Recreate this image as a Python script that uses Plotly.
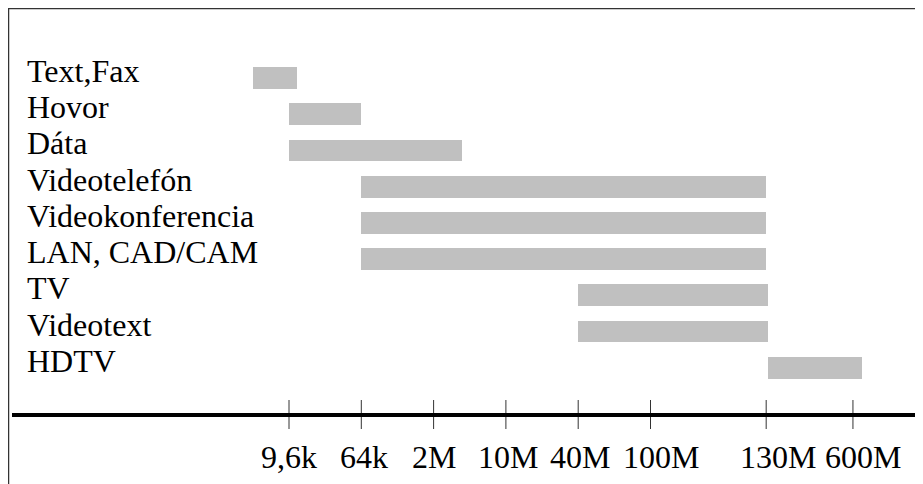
import plotly.graph_objects as go

# ---- data ----
categories = ["Text,Fax", "Hovor", "Dáta", "Videotelefón", "Videokonferencia",
              "LAN, CAD/CAM", "TV", "Videotext", "HDTV"]
# positions on the (ordinal) bit-rate scale: 0 = 9,6k, 1 = 64k, ... (tick units)
range_start = [-0.5, 0.0, 0.0, 1.0, 1.0, 1.0, 4.0, 4.0, 6.62]
range_end = [0.11, 1.0, 2.39, 6.6, 6.6, 6.6, 6.62, 6.62, 7.92]
tick_labels = ["9,6k", "64k", "2M", "10M", "40M", "100M", "130M", "600M"]
tick_pos = [0, 1, 2, 3, 4, 5, 6.6, 7.8]

# ---- styling (pixel values are relative to the figure, which the page offsets by 8px) ----
W, H = 925, 476
FONT = "Liberation Serif"
BAR_COLOR = "#c0c0c0"
px_per_unit = 72.3
x_zero_px = 281
row_pitch = 36.22
row0_px = 70
axis_px = 407
axis_left_px = 4
label_nudge_px = {"64k": 3, "10M": 2, "40M": 2, "100M": 10, "130M": 12, "600M": 10}

rows = list(range(len(categories)))

fig = go.Figure()
fig.add_trace(go.Bar(
    y=rows,
    x=[e - s for s, e in zip(range_start, range_end)],
    base=range_start,
    orientation="h",
    width=0.6,
    marker=dict(color=BAR_COLOR, line=dict(width=0)),
    hoverinfo="skip",
    showlegend=False,
))

# tick marks crossing the axis line
tick_top = (392 - row0_px) / row_pitch
tick_bot = (421 - row0_px) / row_pitch
tx, ty = [], []
for p in tick_pos:
    tx += [p, p, None]
    ty += [tick_top, tick_bot, None]
fig.add_trace(go.Scatter(x=tx, y=ty, mode="lines",
                         line=dict(color="#333333", width=1),
                         hoverinfo="skip", showlegend=False))

annotations = []
for i, c in enumerate(categories):
    annotations.append(dict(
        x=17 / W, xref="paper", y=i, yref="y", text=c, showarrow=False,
        xanchor="left", yanchor="middle", yshift=7,
        font=dict(family=FONT, size=32, color="black")))
label_row = (449 - row0_px) / row_pitch
for p, t in zip(tick_pos, tick_labels):
    annotations.append(dict(
        x=p, xref="x", y=label_row, yref="y", text=t, showarrow=False,
        xanchor="center", yanchor="middle", xshift=label_nudge_px.get(t, 0),
        font=dict(family=FONT, size=32, color="black")))

dom_left = axis_left_px / W
fig.update_layout(
    width=W, height=H,
    margin=dict(l=0, r=0, t=0, b=0),
    paper_bgcolor="white", plot_bgcolor="white",
    bargap=0,
    xaxis=dict(
        domain=[dom_left, 1],
        range=[(axis_left_px - x_zero_px) / px_per_unit, (W - x_zero_px) / px_per_unit],
        showgrid=False, zeroline=False, showticklabels=False, ticks="",
        showline=True, linecolor="black", linewidth=3.5,
        anchor="free", position=1 - axis_px / H,
    ),
    yaxis=dict(
        range=[(H - row0_px) / row_pitch, -row0_px / row_pitch],
        showgrid=False, zeroline=False, showticklabels=False, ticks="",
        showline=False,
    ),
    shapes=[dict(type="rect", xref="paper", yref="paper",
                 x0=0.5 / W, x1=1.05, y0=-0.05, y1=1 - 0.5 / H,
                 line=dict(color="#333333", width=1.5), layer="above")],
    annotations=annotations,
)

fig.write_html("out.html")
